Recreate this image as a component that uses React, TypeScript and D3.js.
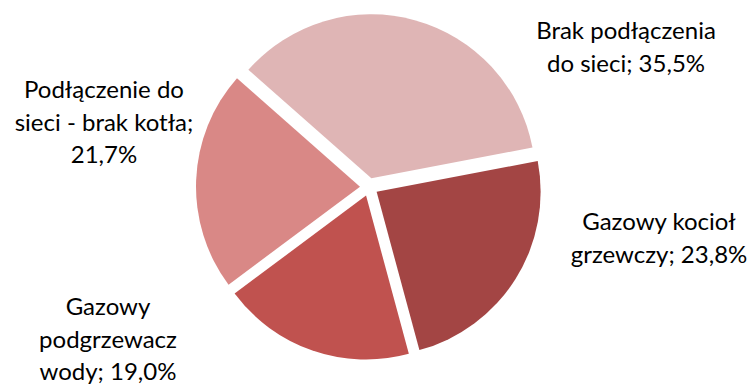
import React from "react";
import * as d3 from "d3";

const categories = [
  "Brak podłączenia do sieci",
  "Gazowy kocioł grzewczy",
  "Gazowy podgrzewacz wody",
  "Podłączenie do sieci - brak kotła",
];
const values = [35.5, 23.8, 19.0, 21.7];
const labelLines = [
  ["Brak podłączenia", "do sieci; 35,5%"],
  ["Gazowy kocioł", "grzewczy; 23,8%"],
  ["Gazowy", "podgrzewacz", "wody; 19,0%"],
  ["Podłączenie do", "sieci - brak kotła;", "21,7%"],
];

const colors = ["#DFB5B5", "#A34544", "#C0524F", "#D98886"];
// label anchor (center x, first baseline y)
const labelAnchors: [number, number][] = [
  [626, 39],
  [659, 230],
  [108, 315],
  [104, 98],
];

const W = 752;
const H = 385;
const cx = 369;
const cy = 187;
const R = 164;
const explode = 9;
const startAngle = (-48.6 * Math.PI) / 180;

export default function App() {
  const pie = d3
    .pie<number>()
    .sort(null)
    .startAngle(startAngle)
    .endAngle(startAngle + 2 * Math.PI)
    .value((d) => d);
  const arcs = pie(values);
  const arc = d3.arc<d3.PieArcDatum<number>>().innerRadius(0).outerRadius(R);

  return (
    <svg
      width={W}
      height={H}
      style={{ position: "absolute", left: 0, top: 0, background: "#fff" }}
      fontFamily="Lato, 'Open Sans', sans-serif"
    >
      {arcs.map((a, i) => {
        const mid = (a.startAngle + a.endAngle) / 2;
        const dx = Math.sin(mid) * explode;
        const dy = -Math.cos(mid) * explode;
        return (
          <path
            key={categories[i]}
            d={arc(a) || ""}
            transform={`translate(${cx + dx},${cy + dy})`}
            fill={colors[i]}
          />
        );
      })}
      {labelLines.map((lines, i) => (
        <text
          key={"l" + i}
          x={labelAnchors[i][0]}
          y={labelAnchors[i][1]}
          textAnchor="middle"
          fontSize={24}
          fill="#000"
        >
          {lines.map((t, j) => (
            <tspan key={j} x={labelAnchors[i][0]} dy={j === 0 ? 0 : 32.5}>
              {t}
            </tspan>
          ))}
        </text>
      ))}
    </svg>
  );
}
